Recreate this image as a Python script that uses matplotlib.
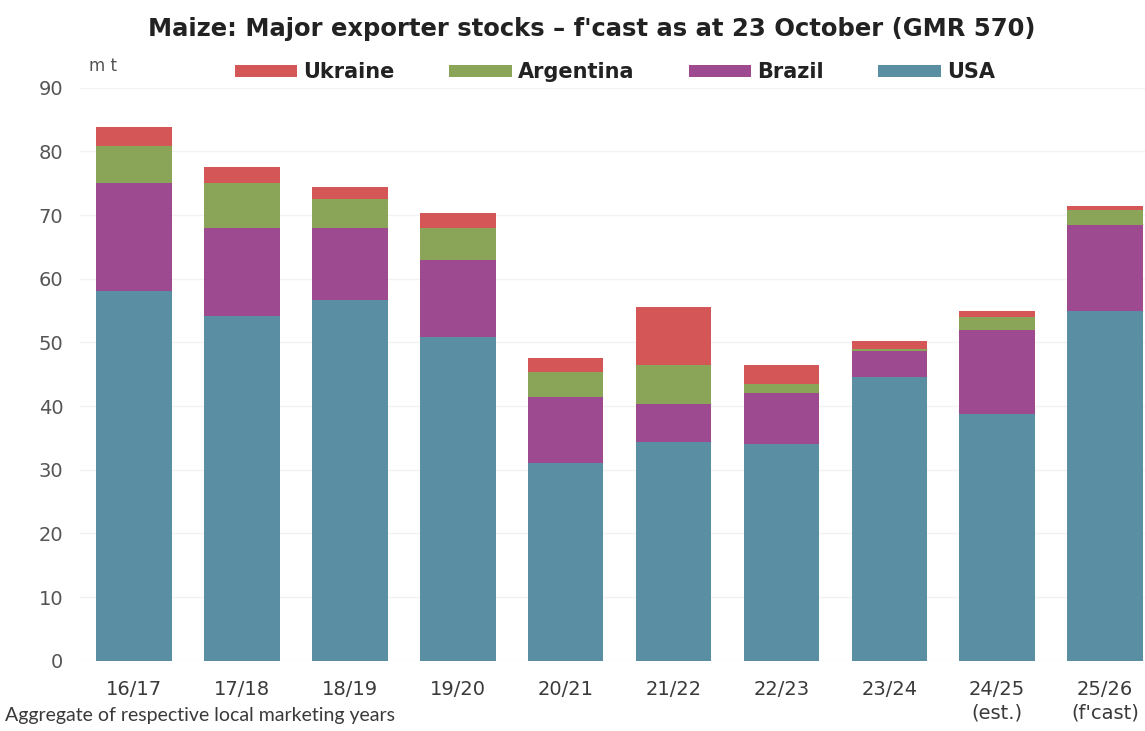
import matplotlib
matplotlib.use("Agg")
import matplotlib.pyplot as plt
import numpy as np

years = ["16/17", "17/18", "18/19", "19/20", "20/21", "21/22", "22/23", "23/24", "24/25\n(est.)", "25/26\n(f'cast)"]
usa = [58.0, 54.2, 56.6, 50.8, 31.0, 34.3, 34.1, 44.6, 38.7, 55.0]
brazil = [17.0, 13.8, 11.4, 12.2, 10.5, 6.1, 7.9, 4.0, 13.3, 13.4]
argentina = [5.9, 7.0, 4.6, 5.0, 3.8, 6.1, 1.5, 0.4, 2.0, 2.4]
ukraine = [3.0, 2.5, 1.8, 2.4, 2.2, 9.0, 2.9, 1.2, 0.9, 0.6]

colors = {"USA": "#5a8ea2", "Brazil": "#9e4a90", "Argentina": "#8ba558", "Ukraine": "#d55656"}

plt.rcParams['font.family'] = ['DejaVu Sans']

fig = plt.figure(figsize=(11.45, 7.31), dpi=100)
ax = fig.add_axes([0.07, 0.096, 0.93, 0.784])

x = np.arange(len(years))
w = 0.7
b1 = ax.bar(x, usa, w, color=colors["USA"], label="USA")
bottom = np.array(usa)
b2 = ax.bar(x, brazil, w, bottom=bottom, color=colors["Brazil"], label="Brazil")
bottom = bottom + np.array(brazil)
b3 = ax.bar(x, argentina, w, bottom=bottom, color=colors["Argentina"], label="Argentina")
bottom = bottom + np.array(argentina)
b4 = ax.bar(x, ukraine, w, bottom=bottom, color=colors["Ukraine"], label="Ukraine")

ax.set_xlim(-0.5, 9.37)
ax.set_ylim(0, 90)
ax.set_yticks(range(0, 91, 10))
ax.set_xticks(x)
ax.set_xticklabels(years, fontsize=14, color="#3a3a3a", linespacing=1.25)
ax.tick_params(axis='y', labelsize=14, labelcolor="#555555", length=0, pad=12)
ax.tick_params(axis='x', length=0, pad=14)
ax.grid(axis='y', color="#f2f2f2", linewidth=1)
ax.set_axisbelow(True)
for s in ax.spines.values():
    s.set_visible(False)

fig.text(0.517, 0.961, "Maize: Major exporter stocks \u2013 f'cast as at 23 October (GMR 570)",
         ha='center', va='center', fontsize=17.5, fontweight='bold', color="#222222")
fig.text(0.078, 0.91, "m t", ha='left', va='center', fontsize=12, color="#555555")
fig.text(0.004, 0.021, "Aggregate of respective local marketing years", ha='left', va='center',
         fontsize=14, color="#3a3a3a", family='Lato')

leg = fig.legend([b4, b3, b2, b1], ["Ukraine", "Argentina", "Brazil", "USA"],
                 loc='center', bbox_to_anchor=(0.537, 0.901), ncol=4, frameon=False,
                 fontsize=15, handlelength=3.0, handleheight=0.5, columnspacing=2.6,
                 handletextpad=0.3)
for t in leg.get_texts():
    t.set_fontweight('bold')
    t.set_color("#222222")

fig.savefig("out.png", dpi=100)
